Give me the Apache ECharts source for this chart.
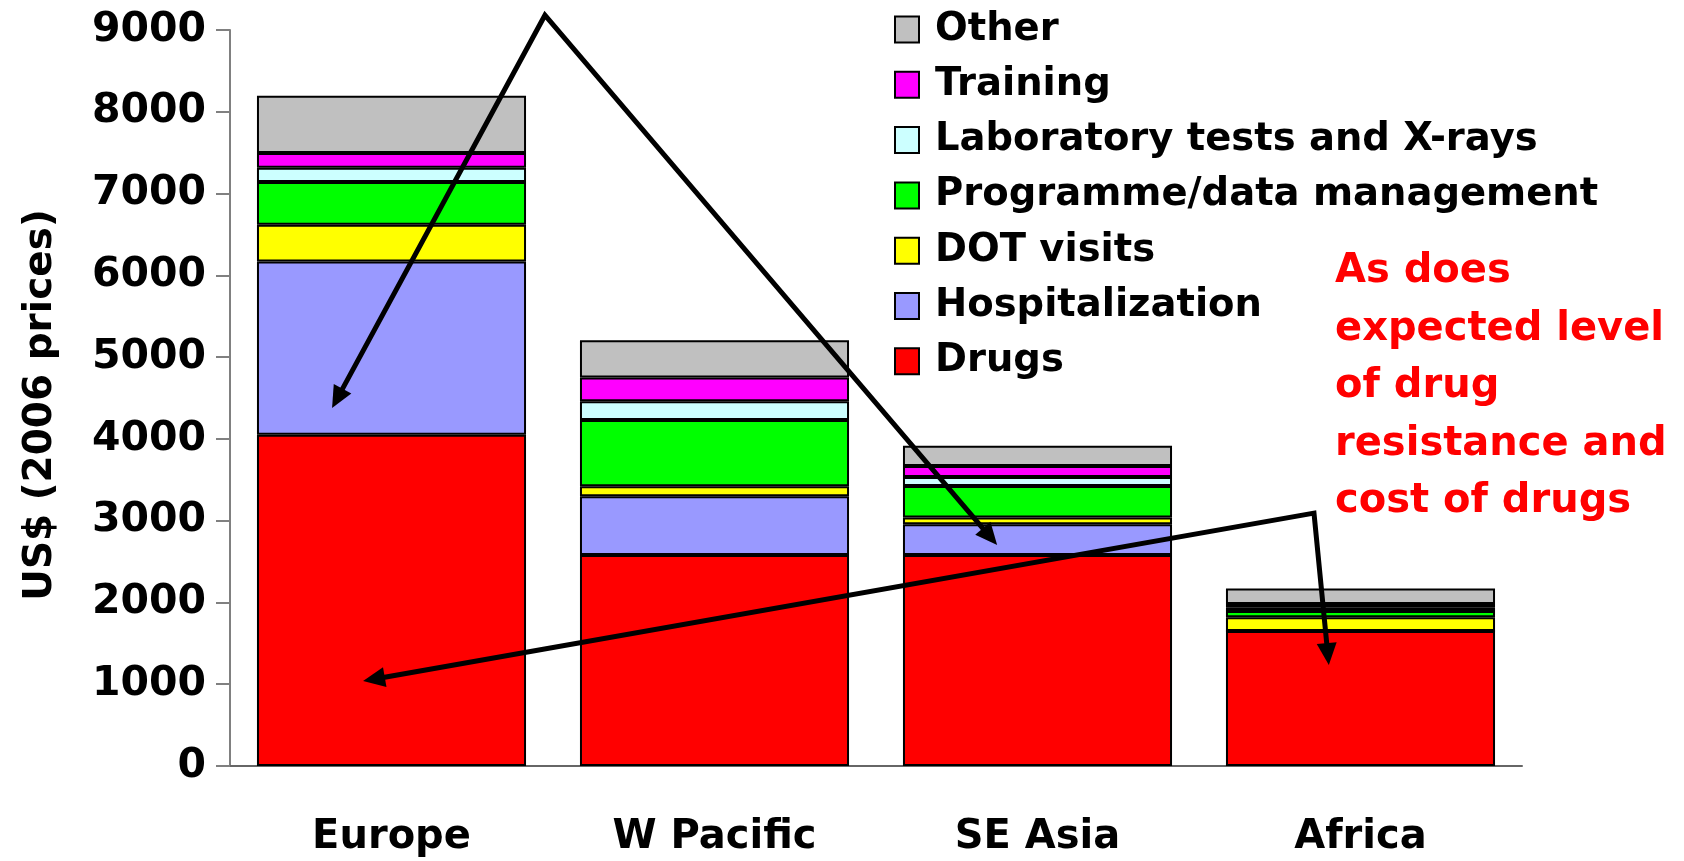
<!DOCTYPE html>
<html>
<head>
<meta charset="utf-8">
<title>TB treatment cost by region</title>
<script src="https://cdn.jsdelivr.net/npm/echarts@6/dist/echarts.min.js"></script>
<style>
  html, body { margin: 0; padding: 0; background: #fff; }
  #chart { width: 1684px; height: 861px; }
</style>
</head>
<body>
<div id="chart"></div>
<script>
// Regions and cost components (US$, 2006 prices)
const regions = ['Europe', 'W Pacific', 'SE Asia', 'Africa'];

const drugs         = [4050, 2580, 2580, 1650];
const hospital      = [2120,  720,  375,    0];
const dotVisits     = [ 450,  120,   85,  170];
const programmeMgmt = [ 520,  810,  385,   75];
const labTests      = [ 175,  230,  110,   40];
const training      = [ 180,  290,  135,   45];
const other         = [ 700,  455,  245,  190];

const yTicks = { min: 0, max: 9000, step: 1000 };

// Arrow annotations, in data units: x runs 0..4 across the four regions
const arrowPaths = [
  [[0.316, 4377], [0.975, 9181], [2.375, 2702]],
  [[0.412, 1039], [3.356, 3093], [3.402, 1235]]
];

const noteText = 'As does\nexpected level\nof drug\nresistance and\ncost of drugs';

const FONT = 'DejaVu Sans';

const stackDefs = [
  { name: 'Drugs', data: drugs, color: '#FF0000' },
  { name: 'Hospitalization', data: hospital, color: '#9999FF' },
  { name: 'DOT visits', data: dotVisits, color: '#FFFF00' },
  { name: 'Programme/data management', data: programmeMgmt, color: '#00FF00' },
  { name: 'Laboratory tests and X-rays', data: labTests, color: '#CCFFFF' },
  { name: 'Training', data: training, color: '#FF00FF' },
  { name: 'Other', data: other, color: '#C0C0C0' }
];

const barSeries = stackDefs.map(d => ({
  name: d.name,
  type: 'bar',
  stack: 'cost',
  data: d.data,
  barCategoryGap: '16.7%',
  itemStyle: { color: d.color, borderColor: '#000', borderWidth: 2 },
  emphasis: { disabled: true }
}));

// Polyline with an arrowhead at each end
function renderArrow(params, api) {
  const pts = arrowPaths[params.dataIndex].map(p => api.coord(p));
  const headLen = 22, headHalf = 10;
  const children = [];
  const line = pts.map(p => p.slice());
  const ends = [[0, 1], [pts.length - 1, pts.length - 2]];
  ends.forEach(([tipI, prevI]) => {
    const tip = pts[tipI], prev = pts[prevI];
    const dx = tip[0] - prev[0], dy = tip[1] - prev[1];
    const len = Math.hypot(dx, dy);
    const ux = dx / len, uy = dy / len;
    const bx = tip[0] - ux * headLen, by = tip[1] - uy * headLen;
    line[tipI] = [tip[0] - ux * (headLen - 3), tip[1] - uy * (headLen - 3)];
    children.push({
      type: 'polygon',
      shape: { points: [tip, [bx - uy * headHalf, by + ux * headHalf], [bx + uy * headHalf, by - ux * headHalf]] },
      style: { fill: '#000' }
    });
  });
  children.unshift({
    type: 'polyline',
    shape: { points: line },
    style: { stroke: '#000', lineWidth: 5, fill: null, lineJoin: 'miter', miterLimit: 10 }
  });
  return { type: 'group', children };
}

const chart = echarts.init(document.getElementById('chart'), null, { renderer: 'canvas' });

chart.setOption({
  animation: false,
  backgroundColor: '#fff',
  grid: { left: 230, right: 162, top: 30, bottom: 95, containLabel: false },
  legend: {
    orient: 'vertical',
    left: 889,
    top: 5,
    itemWidth: 24,
    itemHeight: 26,
    itemGap: 16.3,
    icon: 'rect',
    data: stackDefs.map(d => d.name).reverse(),
    selectedMode: false,
    textStyle: {
      fontFamily: FONT, fontWeight: 'bold', fontSize: 38.5, color: '#000',
      lineHeight: 26, padding: [0, 0, 0, 11]
    }
  },
  xAxis: [
    {
      type: 'category',
      data: regions,
      axisLine: { lineStyle: { color: '#666', width: 2 } },
      axisTick: { length: 15, lineStyle: { color: '#666', width: 2 } },
      axisLabel: { fontFamily: FONT, fontWeight: 'bold', fontSize: 40, color: '#000', margin: 52 }
    },
    { type: 'value', min: 0, max: 4, show: false }
  ],
  yAxis: {
    type: 'value',
    min: yTicks.min,
    max: yTicks.max,
    interval: yTicks.step,
    name: 'US$ (2006 prices)',
    nameLocation: 'middle',
    nameRotate: 90,
    nameGap: 170,
    nameTextStyle: { fontFamily: FONT, fontWeight: 'bold', fontSize: 39, color: '#000', padding: [0, 14, 0, 0] },
    axisLine: { show: true, lineStyle: { color: '#808080', width: 2 } },
    axisTick: { show: true, length: 14, lineStyle: { color: '#808080', width: 2 } },
    splitLine: { show: false },
    axisLabel: {
      fontFamily: FONT, fontWeight: 'bold', fontSize: 41, color: '#000', margin: 24,
      formatter: v => String(v)
    }
  },
  graphic: [{
    type: 'text',
    left: 1335,
    top: 243,
    z: 100,
    style: {
      text: noteText,
      fill: '#FF0000',
      font: 'bold 40px "DejaVu Sans"',
      lineHeight: 57.5
    }
  }],
  series: barSeries.concat([{
    type: 'custom',
    name: 'arrows',
    xAxisIndex: 1,
    yAxisIndex: 0,
    clip: false,
    z: 10,
    silent: true,
    data: arrowPaths.map((p, i) => [i]),
    renderItem: renderArrow
  }])
});
</script>
</body>
</html>
